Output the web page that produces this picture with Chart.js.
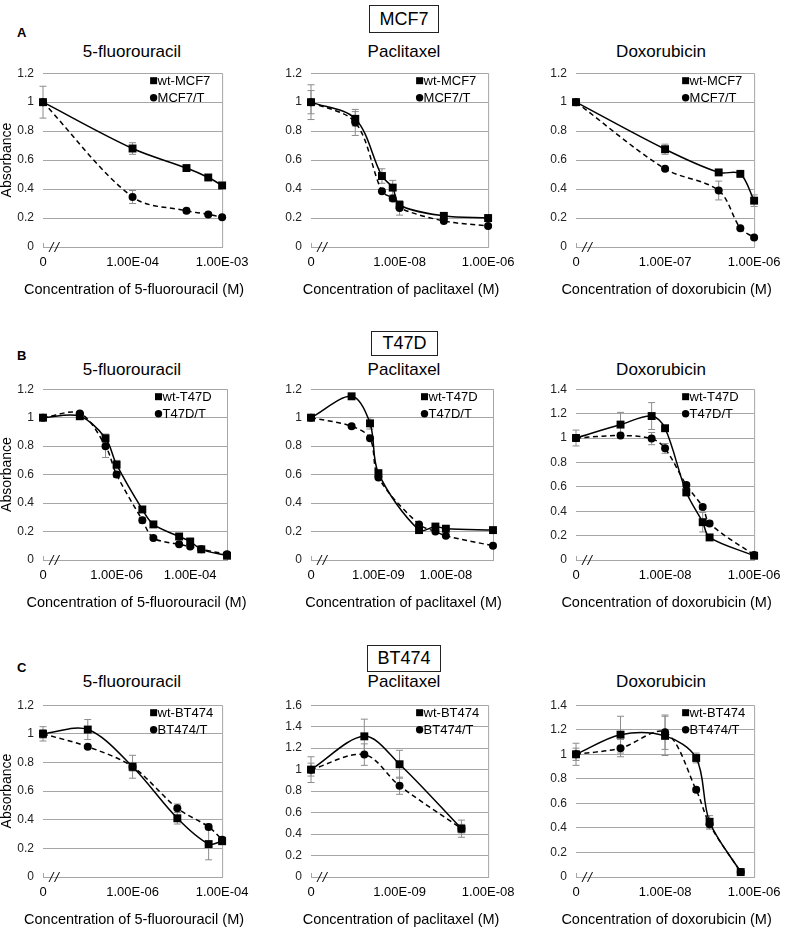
<!DOCTYPE html>
<html>
<head>
<meta charset="utf-8">
<script src="https://cdn.jsdelivr.net/npm/chart.js@4.4.1/dist/chart.umd.min.js"></script>
<style>
    html, body { margin: 0; padding: 0; background: #fff; }
    body { width: 789px; height: 927px; position: relative; overflow: hidden;
           font-family: "Liberation Sans", Arial, sans-serif; color: #000; }
    .panel { position: absolute; }
    .drug { position: absolute; width: 200px; font-size: 17px; line-height: 20px; text-align: center; }
    .cell-box { position: absolute; box-sizing: border-box; border: 1px solid #222; font-size: 18px; text-align: center; }
    .letter { position: absolute; font-size: 13px; line-height: 14px; font-weight: bold; }
</style>
</head>
<body>

<div class="letter" style="left:17px; top:26px;">A</div>
<div class="letter" style="left:17px; top:349px;">B</div>
<div class="letter" style="left:17px; top:661px;">C</div>

<div class="cell-box" style="left:369px; top:5px; width:70px; height:28px; line-height:26px;">MCF7</div>
<div class="cell-box" style="left:371px; top:331px; width:67px; height:25px; line-height:23px;">T47D</div>
<div class="cell-box" style="left:367px; top:645px; width:74px; height:27px; line-height:25px;">BT474</div>

<div class="drug" style="left:32px; top:42px;">5-fluorouracil</div>
<div class="drug" style="left:304px; top:42px;">Paclitaxel</div>
<div class="drug" style="left:561px; top:42px;">Doxorubicin</div>
<div class="drug" style="left:32px; top:360px;">5-fluorouracil</div>
<div class="drug" style="left:304px; top:360px;">Paclitaxel</div>
<div class="drug" style="left:561px; top:360px;">Doxorubicin</div>
<div class="drug" style="left:32px; top:672px;">5-fluorouracil</div>
<div class="drug" style="left:304px; top:672px;">Paclitaxel</div>
<div class="drug" style="left:561px; top:672px;">Doxorubicin</div>

<div id="panels"></div>

<script>
// x tick positions (M) and their labels; the first tick stands for concentration 0
const ticksFuA = [1e-5, 1e-4, 1e-3];
const labelsFuA = ["0", "1.00E-04", "1.00E-03"];
const ticksPacA = [1e-10, 1e-8, 1e-6];
const labelsPacA = ["0", "1.00E-08", "1.00E-06"];
const ticksDoxA = [1e-8, 1e-7, 1e-6];
const labelsDoxA = ["0", "1.00E-07", "1.00E-06"];
const ticksFuB = [1e-8, 1e-6, 1e-4];
const labelsFuB = ["0", "1.00E-06", "1.00E-04"];
const ticksPacB = [1e-10, 1e-9, 1e-8];
const labelsPacB = ["0", "1.00E-09", "1.00E-08"];
const ticksDox = [1e-10, 1e-8, 1e-6];
const labelsDox = ["0", "1.00E-08", "1.00E-06"];
const ticksFuC = [1e-8, 1e-6, 1e-4];
const labelsFuC = ["0", "1.00E-06", "1.00E-04"];
const ticksPacC = [1e-10, 1e-9, 1e-8];
const labelsPacC = ["0", "1.00E-09", "1.00E-08"];

// A: MCF7
const mcf7FuConc = [0, 1e-4, 4e-4, 7e-4, 1e-3];
const mcf7FuWt = [1.0, 0.68, 0.545, 0.48, 0.425];
const mcf7FuWtErr = [0.11, 0.04, 0.01, 0.01, 0.01];
const mcf7FuT = [1.0, 0.345, 0.25, 0.225, 0.205];
const mcf7FuTErr = [0.02, 0.045, 0.015, 0.01, 0.01];

const mcf7PacConc = [0, 1e-9, 4e-9, 7e-9, 1e-8, 1e-7, 1e-6];
const mcf7PacWt = [1.0, 0.885, 0.49, 0.41, 0.29, 0.215, 0.2];
const mcf7PacWtErr = [0.12, 0.05, 0.05, 0.05, 0.03, 0.01, 0.01];
const mcf7PacT = [1.0, 0.86, 0.385, 0.335, 0.27, 0.18, 0.145];
const mcf7PacTErr = [0.08, 0.09, 0.01, 0.02, 0.05, 0.01, 0.01];

const mcf7DoxConc = [0, 1e-7, 4e-7, 7e-7, 1e-6];
const mcf7DoxWt = [1.0, 0.675, 0.515, 0.505, 0.32];
const mcf7DoxWtErr = [0.02, 0.035, 0.01, 0.01, 0.04];
const mcf7DoxT = [1.0, 0.54, 0.39, 0.13, 0.065];
const mcf7DoxTErr = [0.02, 0.01, 0.065, 0.01, 0.01];

// B: T47D
const t47dFuConc = [0, 1e-7, 5e-7, 1e-6, 5e-6, 1e-5, 5e-5, 1e-4, 2e-4, 1e-3];
const t47dFuWt = [1.0, 1.01, 0.855, 0.67, 0.355, 0.25, 0.165, 0.13, 0.075, 0.03];
const t47dFuWtErr = [0.02, 0.02, 0.03, 0.03, 0.02, 0.02, 0.02, 0.02, 0.01, 0.01];
const t47dFuT = [1.0, 1.03, 0.8, 0.6, 0.28, 0.155, 0.11, 0.095, 0.075, 0.04];
const t47dFuTErr = [0.02, 0.01, 0.08, 0.02, 0.02, 0.01, 0.01, 0.01, 0.01, 0.01];

const t47dPacConc = [0, 4e-10, 7.5e-10, 1e-9, 4e-9, 7e-9, 1e-8, 5e-8];
const t47dPacWt = [1.0, 1.15, 0.96, 0.61, 0.21, 0.235, 0.22, 0.21];
const t47dPacWtErr = [0.01, 0.01, 0.04, 0.01, 0.01, 0.01, 0.01, 0.01];
const t47dPacT = [1.0, 0.94, 0.855, 0.58, 0.25, 0.2, 0.17, 0.1];
const t47dPacTErr = [0.01, 0.01, 0.01, 0.01, 0.01, 0.01, 0.01, 0.01];

const t47dDoxConc = [0, 1e-9, 5e-9, 1e-8, 3e-8, 7e-8, 1e-7, 1e-6];
const t47dDoxWt = [1.0, 1.11, 1.18, 1.08, 0.555, 0.31, 0.185, 0.035];
const t47dDoxWtErr = [0.065, 0.1, 0.11, 0.02, 0.03, 0.08, 0.02, 0.01];
const t47dDoxT = [1.0, 1.02, 0.995, 0.915, 0.615, 0.435, 0.3, 0.04];
const t47dDoxTErr = [0.02, 0.02, 0.05, 0.04, 0.02, 0.02, 0.02, 0.01];

// C: BT474
const bt474FuConc = [0, 1e-7, 1e-6, 1e-5, 5e-5, 1e-4];
const bt474FuWt = [1.0, 1.03, 0.77, 0.41, 0.23, 0.25];
const bt474FuWtErr = [0.05, 0.07, 0.08, 0.04, 0.11, 0.02];
const bt474FuT = [1.0, 0.91, 0.77, 0.48, 0.35, 0.26];
const bt474FuTErr = [0.03, 0.01, 0.03, 0.03, 0.02, 0.02];

const bt474PacConc = [0, 4e-10, 1e-9, 5e-9];
const bt474PacWt = [1.0, 1.31, 1.05, 0.45];
const bt474PacWtErr = [0.12, 0.16, 0.13, 0.08];
const bt474PacT = [1.0, 1.14, 0.85, 0.45];
const bt474PacTErr = [0.06, 0.1, 0.08, 0.04];

const bt474DoxConc = [0, 1e-9, 1e-8, 5e-8, 1e-7, 5e-7];
const bt474DoxWt = [1.0, 1.16, 1.15, 0.97, 0.45, 0.04];
const bt474DoxWtErr = [0.09, 0.15, 0.16, 0.04, 0.05, 0.01];
const bt474DoxT = [1.0, 1.05, 1.18, 0.71, 0.43, 0.04];
const bt474DoxTErr = [0.05, 0.07, 0.14, 0.02, 0.04, 0.01];

const gridGray = "#a6a6a6";
const FONT = "'Liberation Sans', Arial, sans-serif";
const Y_AXIS_W = 43;
const X_AXIS_H = 54;
const PAD_TOP = 10;
const PAD_RIGHT = 29;

const panels = [
    { left: 43, top: 67, width: 184, height: 180, yMax: 1.2, yTitle: true, xMin: 1e-5, xMax: 1e-3,
      ticks: ticksFuA, labels: labelsFuA, conc: mcf7FuConc, wt: mcf7FuWt, wtErr: mcf7FuWtErr, t: mcf7FuT, tErr: mcf7FuTErr,
      names: ["wt-MCF7", "MCF7/T"], xTitle: "Concentration of 5-fluorouracil (M)" },
    { left: 311, top: 67, width: 182, height: 180, yMax: 1.2, xMin: 1e-10, xMax: 1e-6,
      ticks: ticksPacA, labels: labelsPacA, conc: mcf7PacConc, wt: mcf7PacWt, wtErr: mcf7PacWtErr, t: mcf7PacT, tErr: mcf7PacTErr,
      names: ["wt-MCF7", "MCF7/T"], xTitle: "Concentration of paclitaxel (M)" },
    { left: 576, top: 67, width: 183, height: 180, yMax: 1.2, xMin: 1e-8, xMax: 1e-6,
      ticks: ticksDoxA, labels: labelsDoxA, conc: mcf7DoxConc, wt: mcf7DoxWt, wtErr: mcf7DoxWtErr, t: mcf7DoxT, tErr: mcf7DoxTErr,
      names: ["wt-MCF7", "MCF7/T"], xTitle: "Concentration of doxorubicin (M)" },

    { left: 43, top: 383, width: 184, height: 177, yMax: 1.2, yTitle: true, xMin: 1e-8, xMax: 1e-3,
      ticks: ticksFuB, labels: labelsFuB, conc: t47dFuConc, wt: t47dFuWt, wtErr: t47dFuWtErr, t: t47dFuT, tErr: t47dFuTErr,
      names: ["wt-T47D", "T47D/T"], xTitle: "Concentration of 5-fluorouracil (M)" },
    { left: 311, top: 383, width: 182, height: 177, yMax: 1.2, xMin: 1e-10, xMax: 5e-8,
      ticks: ticksPacB, labels: labelsPacB, conc: t47dPacConc, wt: t47dPacWt, wtErr: t47dPacWtErr, t: t47dPacT, tErr: t47dPacTErr,
      names: ["wt-T47D", "T47D/T"], xTitle: "Concentration of paclitaxel (M)" },
    { left: 576, top: 383, width: 183, height: 177, yMax: 1.4, xMin: 1e-10, xMax: 1e-6,
      ticks: ticksDox, labels: labelsDox, conc: t47dDoxConc, wt: t47dDoxWt, wtErr: t47dDoxWtErr, t: t47dDoxT, tErr: t47dDoxTErr,
      names: ["wt-T47D", "T47D/T"], xTitle: "Concentration of doxorubicin (M)" },

    { left: 43, top: 699, width: 184, height: 178, yMax: 1.2, yTitle: true, xMin: 1e-8, xMax: 1e-4,
      ticks: ticksFuC, labels: labelsFuC, conc: bt474FuConc, wt: bt474FuWt, wtErr: bt474FuWtErr, t: bt474FuT, tErr: bt474FuTErr,
      names: ["wt-BT474", "BT474/T"], xTitle: "Concentration of 5-fluorouracil (M)" },
    { left: 311, top: 699, width: 182, height: 178, yMax: 1.6, xMin: 1e-10, xMax: 1e-8,
      ticks: ticksPacC, labels: labelsPacC, conc: bt474PacConc, wt: bt474PacWt, wtErr: bt474PacWtErr, t: bt474PacT, tErr: bt474PacTErr,
      names: ["wt-BT474", "BT474/T"], xTitle: "Concentration of paclitaxel (M)" },
    { left: 576, top: 699, width: 183, height: 178, yMax: 1.4, xMin: 1e-10, xMax: 1e-6,
      ticks: ticksDox, labels: labelsDox, conc: bt474DoxConc, wt: bt474DoxWt, wtErr: bt474DoxWtErr, t: bt474DoxT, tErr: bt474DoxTErr,
      names: ["wt-BT474", "BT474/T"], xTitle: "Concentration of doxorubicin (M)" }
];

// vertical error bars, drawn under the markers
const errorBars = {
    id: "errorBars",
    beforeDatasetsDraw(chart) {
        const { ctx } = chart;
        const y = chart.scales.y;
        ctx.save();
        ctx.strokeStyle = "#8c8c8c";
        ctx.lineWidth = 1;
        chart.data.datasets.forEach((ds, di) => {
            chart.getDatasetMeta(di).data.forEach((pt, i) => {
                const e = ds.errors[i];
                if (!e) return;
                const top = y.getPixelForValue(ds.data[i].y + e);
                const bottom = y.getPixelForValue(ds.data[i].y - e);
                ctx.beginPath();
                ctx.moveTo(pt.x, top); ctx.lineTo(pt.x, bottom);
                ctx.moveTo(pt.x - 3.5, top); ctx.lineTo(pt.x + 3.5, top);
                ctx.moveTo(pt.x - 3.5, bottom); ctx.lineTo(pt.x + 3.5, bottom);
                ctx.stroke();
            });
        });
        ctx.restore();
    }
};

// right border, axis break, x title (not squeezed to the plot width) and the in-plot legend
const frame = {
    id: "frame",
    beforeDatasetsDraw(chart) {
        const { ctx, chartArea: a } = chart;
        const opts = chart.options.plugins.frame;
        ctx.save();
        ctx.strokeStyle = gridGray;
        ctx.lineWidth = 1;
        ctx.beginPath();
        ctx.moveTo(a.right + 0.5, a.top);
        ctx.lineTo(a.right + 0.5, a.bottom);
        ctx.moveTo(a.left + 0.5, a.bottom);
        ctx.lineTo(a.left + 0.5, a.bottom - 4);
        ctx.stroke();
        ctx.strokeStyle = "#000";
        ctx.beginPath();
        ctx.moveTo(a.left + 6, a.bottom + 5); ctx.lineTo(a.left + 11, a.bottom - 5);
        ctx.moveTo(a.left + 11.5, a.bottom + 5); ctx.lineTo(a.left + 16.5, a.bottom - 5);
        ctx.stroke();

        ctx.fillStyle = "#000";
        ctx.font = "14.5px " + FONT;
        ctx.textAlign = "center";
        ctx.textBaseline = "middle";
        ctx.fillText(opts.xTitle, (a.left + a.right) / 2 + 1.5, a.bottom + 43);
        ctx.restore();
    },
    afterDatasetsDraw(chart) {
        const { ctx, chartArea: a } = chart;
        const names = chart.options.plugins.frame.names;
        const mx = a.right - 72;
        ctx.save();
        ctx.fillStyle = "#000";
        ctx.font = "13px " + FONT;
        ctx.textBaseline = "middle";
        ctx.fillRect(mx, a.top + 7.5 - 3.5, 7, 7);
        ctx.fillText(names[0], a.right - 64.5, a.top + 8);
        ctx.beginPath();
        ctx.arc(mx + 3.5, a.top + 24.5, 3.7, 0, Math.PI * 2);
        ctx.fill();
        ctx.fillText(names[1], a.right - 64.5, a.top + 25);
        ctx.restore();
    }
};

function toPoints(conc, values, xMin) {
    return conc.map((c, i) => ({ x: c === 0 ? xMin : c, y: values[i] }));
}

function createPanel(p, index) {
    const box = document.createElement("div");
    box.className = "panel";
    box.style.left = (p.left - Y_AXIS_W) + "px";
    box.style.top = (p.top - PAD_TOP) + "px";
    box.style.width = (p.width + Y_AXIS_W + PAD_RIGHT) + "px";
    box.style.height = (p.height + PAD_TOP + X_AXIS_H) + "px";
    const canvas = document.createElement("canvas");
    canvas.id = "chart" + index;
    box.appendChild(canvas);
    document.getElementById("panels").appendChild(box);

    new Chart(canvas, {
        type: "line",
        data: {
            datasets: [
                {
                    label: p.names[0],
                    data: toPoints(p.conc, p.wt, p.xMin),
                    errors: p.wtErr,
                    borderColor: "#000",
                    backgroundColor: "#000",
                    borderWidth: 1.5,
                    pointStyle: "rect",
                    pointRadius: 5.6,
                    pointBorderWidth: 0,
                    tension: 0.33,
                    clip: false
                },
                {
                    label: p.names[1],
                    data: toPoints(p.conc, p.t, p.xMin),
                    errors: p.tErr,
                    borderColor: "#000",
                    backgroundColor: "#000",
                    borderWidth: 1.5,
                    borderDash: [5, 3.5],
                    pointStyle: "circle",
                    pointRadius: 4,
                    pointBorderWidth: 0,
                    tension: 0.33,
                    clip: false
                }
            ]
        },
        options: {
            responsive: true,
            maintainAspectRatio: false,
            animation: false,
            layout: { padding: { top: PAD_TOP, right: PAD_RIGHT, left: 0, bottom: 0 } },
            plugins: {
                legend: { display: false },
                tooltip: { enabled: false },
                frame: { names: p.names, xTitle: p.xTitle }
            },
            scales: {
                x: {
                    type: "logarithmic",
                    min: p.xMin,
                    max: p.xMax,
                    afterBuildTicks: (scale) => { scale.ticks = p.ticks.map((v) => ({ value: v })); },
                    afterFit: (scale) => { scale.height = X_AXIS_H; },
                    grid: { display: false, drawTicks: false },
                    border: { display: true, color: gridGray, width: 1 },
                    ticks: {
                        autoSkip: false,
                        maxRotation: 0,
                        padding: 7.5,
                        color: "#000",
                        font: { size: 13 },
                        callback: (value, i) => p.labels[i]
                    }
                },
                y: {
                    min: 0,
                    max: p.yMax,
                    afterFit: (scale) => { scale.width = Y_AXIS_W; },
                    grid: { color: gridGray, drawTicks: false },
                    border: { display: false },
                    ticks: {
                        stepSize: 0.2,
                        padding: 9,
                        color: "#222",
                        font: { size: 12 },
                        callback: (value) => String(+value.toFixed(1))
                    },
                    title: {
                        display: !!p.yTitle,
                        text: "Absorbance",
                        color: "#000",
                        font: { size: 14, lineHeight: 1 },
                        padding: 0
                    }
                }
            }
        },
        plugins: [errorBars, frame]
    });
}

document.addEventListener("DOMContentLoaded", () => {
    Chart.defaults.font.family = FONT;
    panels.forEach(createPanel);
});
</script>
</body>
</html>
